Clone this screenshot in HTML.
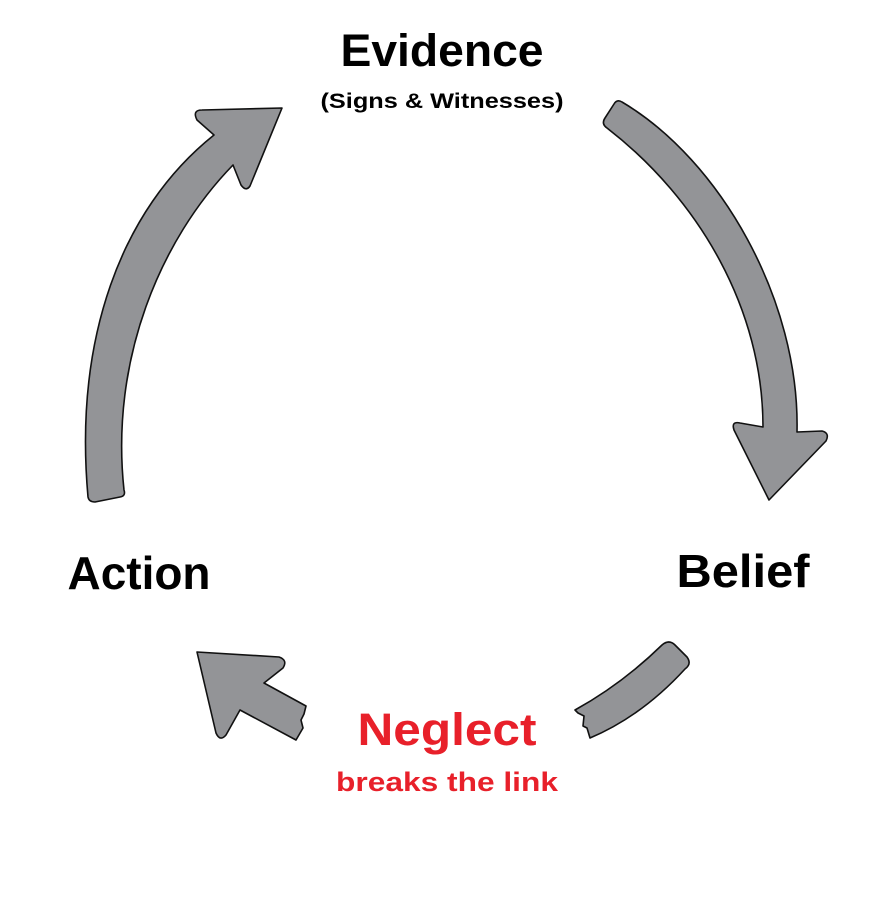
<!DOCTYPE html>
<html><head><meta charset="utf-8"><style>
html,body{margin:0;padding:0;background:#fff;width:896px;height:903px;overflow:hidden}
</style></head><body>
<svg width="896" height="903" viewBox="0 0 896 903" xmlns="http://www.w3.org/2000/svg">
<g fill="#939497" stroke="#111" stroke-width="1.6" stroke-linejoin="round">
<path d="M88,497 C74,340 120,210 214,135 L197,120 Q192,110 202,110 L282,108 L250,186 Q246,192 241,185 L233,165 C160,240 110,360 124,490 Q126,496 120,497 L95,502 Q89,502 88,497 Z"/>
<path d="M622,102 C720,160 800,300 797,432 L822,431 Q830,433 826,441 L769,500 L734,430 Q731,421 740,423 L763,427 C763,310 700,200 607,128 Q601,124 605,118 L614,104 Q617,99 622,102 Z"/>
<path d="M575,710 Q622,684 662,645 Q669,639 675,645 L687,657 Q692,664 685,669 Q642,716 590,738 L587,728 L583,726 L584,716 L578,713 Z"/>
<path d="M197,652 L279,657 Q288,660 283,668 L264,683 L306,706 L304,714 L301,720 L303,728 L296,740 L240,710 L226,735 Q220,742 216,733 Z"/>
</g>
<g font-family="'Liberation Sans',sans-serif" font-weight="bold" text-anchor="middle">
<text x="442" y="66" font-size="45" fill="#000" textLength="203" lengthAdjust="spacingAndGlyphs">Evidence</text>
<text x="442" y="108" font-size="21" fill="#000" textLength="243" lengthAdjust="spacingAndGlyphs">(Signs &amp; Witnesses)</text>
<text x="139" y="589" font-size="46" fill="#000" textLength="143" lengthAdjust="spacingAndGlyphs">Action</text>
<text x="743" y="587" font-size="46" fill="#000" textLength="133" lengthAdjust="spacingAndGlyphs">Belief</text>
<text x="447" y="745" font-size="45" fill="#e8202a" textLength="179" lengthAdjust="spacingAndGlyphs">Neglect</text>
<text x="447" y="791" font-size="27" fill="#e8202a" textLength="222" lengthAdjust="spacingAndGlyphs">breaks the link</text>
</g>
</svg>
</body></html>
